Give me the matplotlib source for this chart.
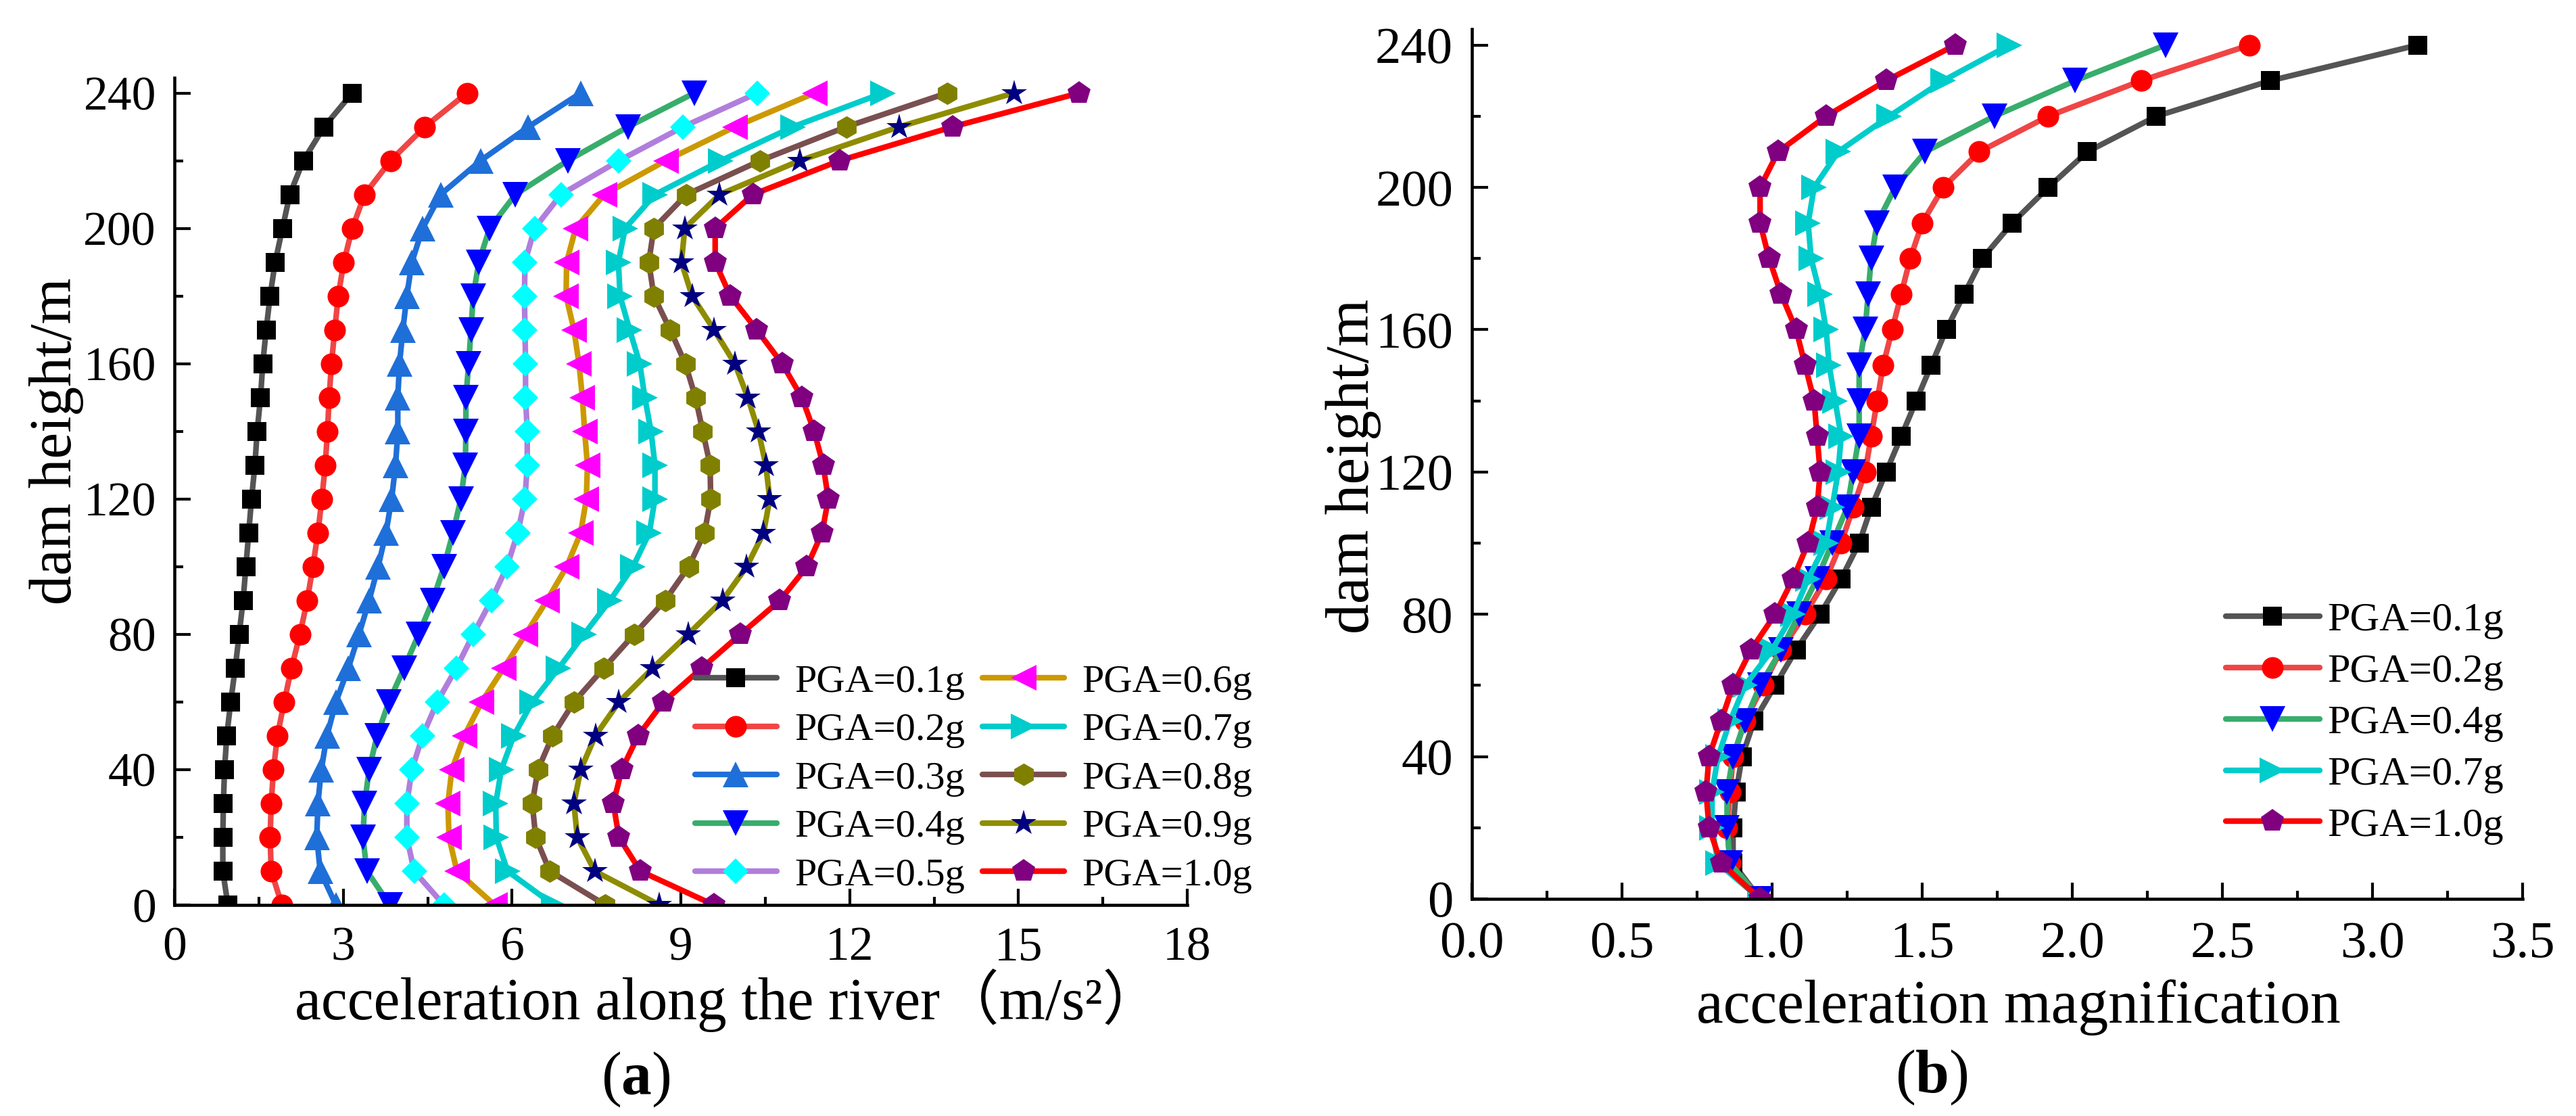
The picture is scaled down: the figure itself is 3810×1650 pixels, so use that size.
import matplotlib
matplotlib.use("Agg")
import matplotlib.pyplot as plt
from matplotlib.ticker import MultipleLocator

plt.rcParams['font.family'] = ['Liberation Serif', 'Noto Sans CJK SC']
plt.rcParams['mathtext.fontset'] = 'custom'
plt.rcParams['mathtext.rm'] = 'Liberation Serif'
plt.rcParams['mathtext.bf'] = 'Liberation Serif:bold'

# dam heights (m)
heights = [0, 10, 20, 30, 40, 50, 60, 70, 80, 90, 100, 110, 120,
           130, 140, 150, 160, 170, 180, 190, 200, 210, 220, 230, 240]

# (a) acceleration along the river, m/s^2
acc_01 = [0.95, 0.86, 0.86, 0.87, 0.89, 0.93, 1.00, 1.08, 1.15, 1.22, 1.27, 1.32, 1.37,
          1.43, 1.47, 1.53, 1.57, 1.63, 1.70, 1.79, 1.92, 2.05, 2.29, 2.66, 3.16]
acc_02 = [1.91, 1.72, 1.70, 1.72, 1.76, 1.83, 1.95, 2.08, 2.23, 2.36, 2.46, 2.55, 2.62,
          2.68, 2.72, 2.75, 2.79, 2.85, 2.91, 3.01, 3.16, 3.38, 3.84, 4.45, 5.20]
acc_03 = [2.87, 2.59, 2.53, 2.55, 2.61, 2.71, 2.87, 3.09, 3.28, 3.46, 3.62, 3.76, 3.86,
          3.93, 3.97, 3.97, 4.00, 4.06, 4.13, 4.22, 4.41, 4.73, 5.44, 6.29, 7.22]
acc_04 = [3.83, 3.42, 3.35, 3.38, 3.46, 3.60, 3.81, 4.08, 4.34, 4.59, 4.79, 4.95, 5.09,
          5.17, 5.18, 5.18, 5.23, 5.27, 5.31, 5.41, 5.60, 6.06, 6.99, 8.06, 9.24]
acc_05 = [4.79, 4.26, 4.13, 4.13, 4.22, 4.41, 4.67, 5.01, 5.31, 5.63, 5.91, 6.10, 6.23,
          6.27, 6.27, 6.24, 6.24, 6.23, 6.22, 6.23, 6.40, 6.87, 7.90, 9.04, 10.36]
acc_06 = [5.69, 5.02, 4.88, 4.86, 4.93, 5.15, 5.46, 5.85, 6.24, 6.62, 6.97, 7.22, 7.32,
          7.34, 7.29, 7.25, 7.19, 7.10, 6.96, 6.97, 7.13, 7.64, 8.73, 9.96, 11.38]
acc_07 = [6.74, 5.92, 5.72, 5.71, 5.81, 6.03, 6.36, 6.83, 7.28, 7.74, 8.15, 8.44, 8.54,
          8.54, 8.47, 8.36, 8.27, 8.09, 7.92, 7.89, 8.01, 8.54, 9.71, 10.99, 12.59]
acc_08 = [7.66, 6.67, 6.42, 6.36, 6.46, 6.72, 7.10, 7.63, 8.17, 8.72, 9.14, 9.42, 9.53,
          9.52, 9.39, 9.26, 9.08, 8.81, 8.52, 8.43, 8.52, 9.10, 10.41, 11.94, 13.73]
acc_09 = [8.62, 7.47, 7.16, 7.10, 7.22, 7.48, 7.90, 8.50, 9.13, 9.74, 10.17, 10.47, 10.58,
          10.51, 10.38, 10.19, 9.96, 9.59, 9.20, 9.01, 9.07, 9.69, 11.11, 12.88, 14.92]
acc_10 = [9.59, 8.28, 7.90, 7.80, 7.95, 8.24, 8.69, 9.37, 10.06, 10.76, 11.24, 11.51, 11.62,
          11.53, 11.37, 11.15, 10.80, 10.35, 9.88, 9.61, 9.61, 10.28, 11.82, 13.83, 16.08]

# (b) acceleration magnification
mag_01 = [0.96, 0.87, 0.87, 0.88, 0.90, 0.94, 1.01, 1.08, 1.16, 1.23, 1.29, 1.33, 1.38,
          1.43, 1.48, 1.53, 1.58, 1.64, 1.70, 1.80, 1.92, 2.05, 2.28, 2.66, 3.15]
mag_02 = [0.96, 0.86, 0.85, 0.86, 0.87, 0.91, 0.97, 1.03, 1.11, 1.18, 1.23, 1.27, 1.31,
          1.33, 1.35, 1.37, 1.40, 1.43, 1.46, 1.50, 1.57, 1.69, 1.92, 2.23, 2.59]
mag_04 = [0.96, 0.86, 0.85, 0.85, 0.87, 0.91, 0.96, 1.03, 1.09, 1.15, 1.20, 1.25, 1.27,
          1.29, 1.29, 1.29, 1.31, 1.32, 1.33, 1.35, 1.41, 1.51, 1.74, 2.01, 2.31]
mag_07 = [0.96, 0.82, 0.80, 0.80, 0.82, 0.86, 0.91, 1.00, 1.07, 1.12, 1.18, 1.20, 1.22,
          1.23, 1.21, 1.19, 1.18, 1.16, 1.13, 1.12, 1.14, 1.22, 1.39, 1.57, 1.79]
mag_10 = [0.96, 0.83, 0.79, 0.78, 0.79, 0.83, 0.87, 0.93, 1.01, 1.07, 1.12, 1.15, 1.16,
          1.15, 1.14, 1.11, 1.08, 1.03, 0.99, 0.96, 0.96, 1.02, 1.18, 1.38, 1.61]

labels = ['PGA=0.1g', 'PGA=0.2g', 'PGA=0.3g', 'PGA=0.4g', 'PGA=0.5g',
          'PGA=0.6g', 'PGA=0.7g', 'PGA=0.8g', 'PGA=0.9g', 'PGA=1.0g']

# style per PGA: line colour, marker, marker colour, marker size
styles = {
    'PGA=0.1g': ('#545454', 's', '#000000', 6.5),
    'PGA=0.2g': ('#f04545', 'o', '#ff0000', 7.7),
    'PGA=0.3g': ('#1f6fd8', '^', '#1f6fd8', 8.9),
    'PGA=0.4g': ('#38ad6b', 'v', '#0000ff', 8.9),
    'PGA=0.5g': ('#b07edc', 'D', '#00ffff', 6.6),
    'PGA=0.6g': ('#cc9900', '<', '#ff00ff', 8.9),
    'PGA=0.7g': ('#00cccc', '>', '#00cccc', 8.9),
    'PGA=0.8g': ('#7a4f4f', 'h', '#808000', 8.0),
    'PGA=0.9g': ('#8e8c00', '*', '#000080', 9.5),
    'PGA=1.0g': ('#ff0000', 'p', '#800080', 8.6),
}

W, H = 3810, 1650
fig = plt.figure(figsize=(W / 300, H / 300), dpi=300)

ax1 = fig.add_axes([258 / W, 1 - 1338 / H, 1498 / W, 1223 / H])
ax2 = fig.add_axes([2177 / W, 1 - 1329 / H, 1554 / W, 1286 / H])


def draw(ax, series, names):
    for vals, name in zip(series, names):
        lc, mk, mc, ms = styles[name]
        ax.plot(vals, heights, color=lc, lw=2.0, marker=mk, ms=ms,
                markerfacecolor=mc, markeredgecolor=mc, markeredgewidth=0,
                solid_capstyle='round', label=name)


def style_axes(ax, tick_fs, pad_x, pad_y):
    ax.spines['top'].set_visible(False)
    ax.spines['right'].set_visible(False)
    for s in ['left', 'bottom']:
        ax.spines[s].set_linewidth(1.1)
    ax.set_ylim(0, 244.5)
    ax.yaxis.set_major_locator(MultipleLocator(40))
    ax.yaxis.set_minor_locator(MultipleLocator(20))
    ax.tick_params(which='major', direction='in', length=5.8, width=1.0,
                   labelsize=tick_fs)
    ax.tick_params(which='minor', direction='in', length=3.0, width=1.0)
    ax.tick_params(axis='x', which='major', pad=pad_x)
    ax.tick_params(axis='y', which='major', pad=pad_y)


draw(ax1, [acc_01, acc_02, acc_03, acc_04, acc_05, acc_06, acc_07, acc_08, acc_09, acc_10],
     labels)
style_axes(ax1, 17.2, 7.5, 6.5)
ax1.set_xlim(0, 18)
ax1.xaxis.set_major_locator(MultipleLocator(3))
ax1.xaxis.set_minor_locator(MultipleLocator(1.5))
ax1.set_xlabel('acceleration along the river（m/s²）', fontsize=21)
ax1.set_ylabel('dam height/m', fontsize=21)
ax1.xaxis.label.set_va('baseline')
ax1.yaxis.label.set_va('baseline')
ax1.xaxis.set_label_coords(0.547, -0.1382)
ax1.yaxis.set_label_coords(-0.102, 0.561)
ax1.legend(ncol=2, frameon=False, fontsize=14, loc='upper left',
           bbox_to_anchor=(1028 / W, 1 - 982 / H), bbox_transform=fig.transFigure,
           borderpad=0, borderaxespad=0, handlelength=2.07, handletextpad=0.45,
           columnspacing=0.45, labelspacing=0.32)

draw(ax2, [mag_01, mag_02, mag_04, mag_07, mag_10],
     ['PGA=0.1g', 'PGA=0.2g', 'PGA=0.4g', 'PGA=0.7g', 'PGA=1.0g'])
style_axes(ax2, 18.4, 8.0, 6.7)
ax2.set_xlim(0, 3.5)
ax2.xaxis.set_major_locator(MultipleLocator(0.5))
ax2.xaxis.set_minor_locator(MultipleLocator(0.25))
ax2.xaxis.set_major_formatter(plt.FormatStrFormatter('%.1f'))
ax2.set_xlabel('acceleration magnification', fontsize=21.5)
ax2.set_ylabel('dam height/m', fontsize=21.5)
ax2.xaxis.label.set_va('baseline')
ax2.yaxis.label.set_va('baseline')
ax2.xaxis.set_label_coords(0.52, -0.1423)
ax2.yaxis.set_label_coords(-0.0985, 0.497)
ax2.legend(frameon=False, fontsize=14.5, loc='upper left',
           bbox_to_anchor=(3292 / W, 1 - 890 / H), bbox_transform=fig.transFigure,
           borderpad=0, borderaxespad=0, handlelength=2.3, handletextpad=0.18,
           labelspacing=0.34)

fig.text(940 / W, 1 - 1618 / H, r'($\mathbf{a}$)', fontsize=21.5, ha='center', va='baseline')
fig.text(2857 / W, 1 - 1615 / H, r'($\mathbf{b}$)', fontsize=21.5, ha='center', va='baseline')

fig.savefig('out.png', dpi=300)
